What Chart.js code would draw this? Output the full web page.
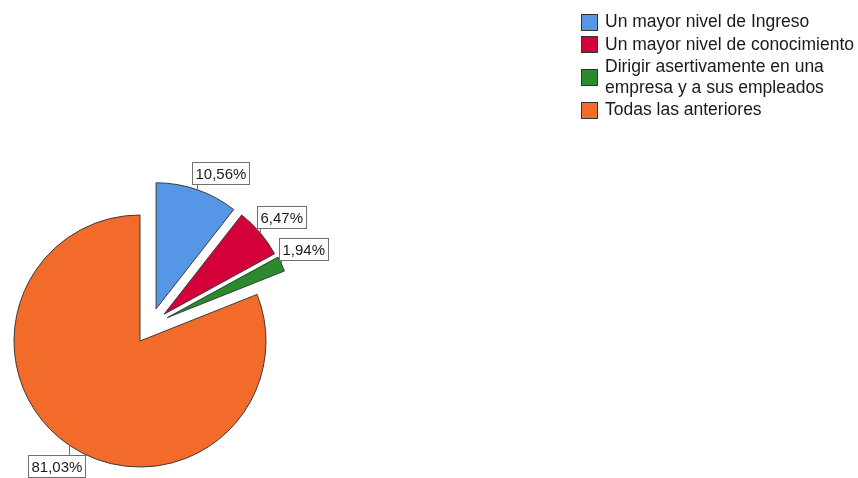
<!DOCTYPE html>
<html>
<head>
<meta charset="utf-8">
<script src="https://cdn.jsdelivr.net/npm/chart.js@4"></script>
<style>
  body { margin: 0; background: #fff; }
  .wrap { width: 858px; height: 478px; position: relative; }
</style>
</head>
<body>
<div class="wrap"><canvas id="pie"></canvas></div>
<script>
const categories = [
    'Un mayor nivel de Ingreso',
    'Un mayor nivel de conocimiento',
    ['Dirigir asertivamente en una', 'empresa y a sus empleados'],
    'Todas las anteriores'
];
const percents = [10.56, 6.47, 1.94, 81.03];
const colors = ['#5596e6', '#d3003a', '#2b8a2b', '#f26b2b'];

// pull the first slices out of the pie, SPSS style
const explodePlugin = {
    id: 'explode',
    afterDatasetsUpdate(chart, args, opts) {
        const arcs = chart.getDatasetMeta(0).data;
        const picked = opts.indices;
        const start = Math.min(...picked.map(i => arcs[i].startAngle));
        const end = Math.max(...picked.map(i => arcs[i].endAngle));
        const groupMid = (start + end) / 2;
        picked.forEach(i => {
            const arc = arcs[i];
            const dir = ((arc.startAngle + arc.endAngle) / 2 + groupMid) / 2;
            arc.x += Math.cos(dir) * opts.distance;
            arc.y += Math.sin(dir) * opts.distance;
        });
    }
};

// boxed percentage labels next to each slice
const sliceLabels = {
    id: 'sliceLabels',
    afterDatasetsDraw(chart, args, opts) {
        const ctx = chart.ctx;
        const arcs = chart.getDatasetMeta(0).data;
        ctx.save();
        ctx.font = opts.font;
        ctx.textBaseline = 'middle';
        ctx.lineWidth = 1;
        arcs.forEach((arc, i) => {
            const text = percents[i].toFixed(2).replace('.', ',') + '%';
            const mid = (arc.startAngle + arc.endAngle) / 2;
            const cos = Math.cos(mid), sin = Math.sin(mid);
            const r = arc.outerRadius;
            const px = arc.x + cos * r, py = arc.y + sin * r;
            const ax = arc.x + cos * (r + 4), ay = arc.y + sin * (r + 4);
            const w = Math.round(ctx.measureText(text).width + 7);
            const h = 23;
            const left = Math.round(cos < 0 ? ax + 19 - w : ax - 6);
            const top = Math.round(sin > 0 ? ay + 6 : ay - 1 - h);
            const edge = sin > 0 ? top : top + h;

            ctx.strokeStyle = opts.lineColor;
            ctx.beginPath();
            ctx.moveTo(Math.round(px) + 0.5, py);
            ctx.lineTo(Math.round(px) + 0.5, edge);
            ctx.stroke();

            ctx.fillStyle = '#fff';
            ctx.fillRect(left, top, w, h);
            ctx.strokeRect(left + 0.5, top + 0.5, w - 1, h - 1);

            ctx.fillStyle = '#1a1a1a';
            ctx.fillText(text, left + 3.5, top + h / 2 + 1);
        });
        ctx.restore();
    }
};

// legend in the top right corner, with wrapped labels
const sideLegend = {
    id: 'sideLegend',
    afterDraw(chart, args, opts) {
        const ctx = chart.ctx;
        const bg = chart.data.datasets[0].backgroundColor;
        let y = opts.top;
        ctx.save();
        ctx.font = opts.font;
        ctx.textBaseline = 'middle';
        ctx.lineWidth = 1;
        chart.data.labels.forEach((label, i) => {
            const lines = [].concat(label);
            const h = lines.length * opts.lineHeight;
            const sy = Math.round(y + h / 2 - opts.box / 2);
            ctx.fillStyle = bg[i];
            ctx.fillRect(opts.x, sy, opts.box, opts.box);
            ctx.strokeStyle = '#333';
            ctx.strokeRect(opts.x + 0.5, sy + 0.5, opts.box - 1, opts.box - 1);
            ctx.fillStyle = '#1a1a1a';
            lines.forEach((ln, j) => {
                ctx.fillText(ln, opts.textX, y + opts.lineHeight * (j + 0.5));
            });
            y += h + opts.gap;
        });
        ctx.restore();
    }
};

new Chart(document.getElementById('pie'), {
    type: 'pie',
    data: {
        labels: categories,
        datasets: [{
            data: percents,
            backgroundColor: colors,
            borderColor: '#3a3a3a',
            borderWidth: 1,
            radius: 126
        }]
    },
    options: {
        responsive: true,
        maintainAspectRatio: false,
        animation: false,
        events: [],
        layout: {
            padding: { left: 0, right: 578, top: 204, bottom: 0 }
        },
        plugins: {
            legend: { display: false },
            tooltip: { enabled: false },
            explode: { indices: [0, 1, 2], distance: 36 },
            sliceLabels: {
                font: '15px "Liberation Sans", Arial, sans-serif',
                lineColor: '#707070'
            },
            sideLegend: {
                font: '17.5px "Liberation Sans", Arial, sans-serif',
                x: 581,
                textX: 605,
                top: 12,
                box: 17,
                lineHeight: 20.5,
                gap: 2
            }
        }
    },
    plugins: [explodePlugin, sliceLabels, sideLegend]
});
</script>
</body>
</html>
